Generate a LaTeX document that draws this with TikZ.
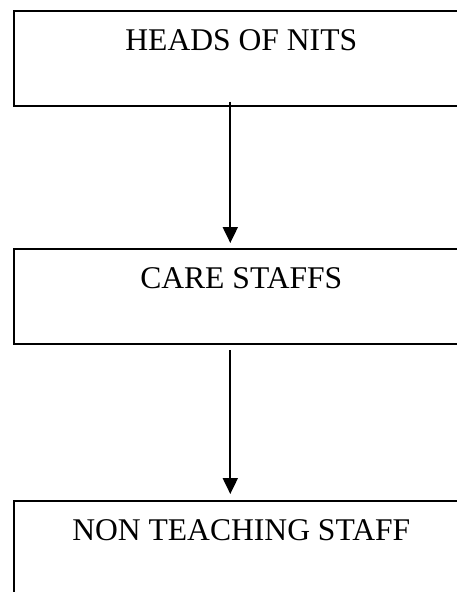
\documentclass[tikz,border=0pt]{standalone}
\usepackage{fontspec}
\setmainfont{Liberation Serif}
\usetikzlibrary{arrows.meta}
\tikzset{
  unitbox/.style={draw, line width=2pt, anchor=north west,
    minimum width=454pt, minimum height=95pt, inner sep=0pt},
  unitlabel/.style={anchor=base, inner sep=0pt,
    font=\fontsize{31.6}{38}\selectfont},
  flow/.style={line width=2pt, -{Triangle[width=15pt,length=16pt]}}
}
\newcommand{\drawunit}[3]{
  \node[unitbox] (#1) at (13.3,#2) {};
  \node[unitlabel] (#1label) at ([yshift=-40.5pt]#1.north) {#3};
}

\begin{document}
\begin{tikzpicture}[x=1pt,y=-1pt]
  \useasboundingbox (0,0) rectangle (457,592);
  \drawunit{heads}{10}{HEADS OF NITS}
  \drawunit{care}{247.7}{CARE STAFFS}
  \drawunit{nonteach}{500}{NON TEACHING STAFF}

  \draw[flow] ([xshift=-11pt,yshift=5.5pt]heads.south) -- ([xshift=-11pt,yshift=4.7pt]care.north);
  \draw[flow] ([xshift=-11pt,yshift=-5.7pt]care.south) -- ([xshift=-11pt,yshift=6pt]nonteach.north);
\end{tikzpicture}
\end{document}
